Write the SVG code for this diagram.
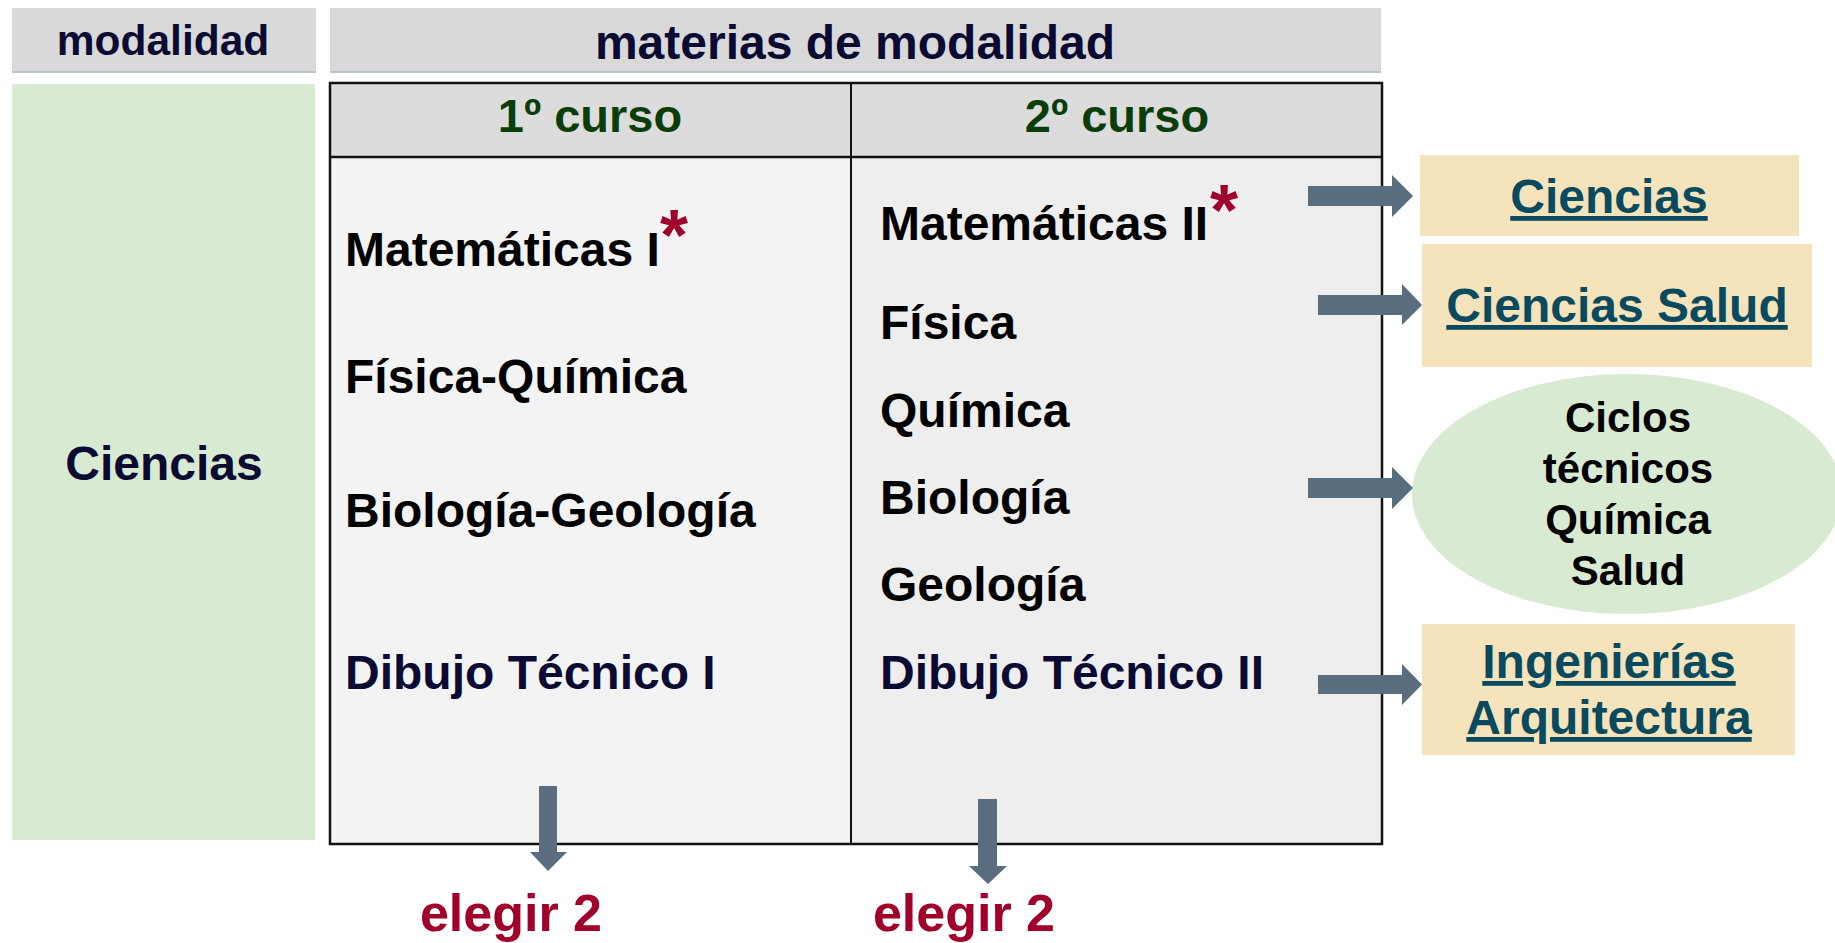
<svg xmlns="http://www.w3.org/2000/svg" width="1835" height="943" viewBox="0 0 1835 943">
<style>
text{font-family:"Liberation Sans",Arial,sans-serif;font-weight:bold}
.hdr{fill:#d9d9d9}
.navy{fill:#0a0a32}
.blk{fill:#000}
.grn{fill:#0b3d0b}
.red{fill:#a0002a}
.teal{fill:#0a4a5f;text-decoration:underline}
.wheat{fill:#f5e4bb}
.arr{fill:#596d7e}
.s47{font-size:48px}
.mid{text-anchor:middle}
</style>
<rect width="1835" height="943" fill="#fff"/>
<g id="hdr-modalidad">
<rect class="hdr" x="12" y="8" width="304" height="64"/>
<line x1="12" y1="72" x2="316" y2="72" stroke="#b8c4d0" stroke-width="2"/>
<text class="navy mid" x="163" y="55" font-size="42.5">modalidad</text>
</g>
<g id="hdr-materias">
<rect class="hdr" x="330" y="8" width="1051" height="64"/>
<line x1="330" y1="72" x2="1381" y2="72" stroke="#b8c4d0" stroke-width="2"/>
<text class="navy mid" x="855" y="59" font-size="48">materias de modalidad</text>
</g>
<g id="modalidad-ciencias">
<rect x="12" y="84" width="303" height="756" fill="#d9ead3"/>
<text class="navy mid s47" x="164" y="480">Ciencias</text>
</g>
<g id="table">
<rect x="330" y="83" width="521" height="74" fill="#dcdcdc"/>
<rect x="851" y="83" width="531" height="74" fill="#dcdcdc"/>
<rect x="330" y="157" width="521" height="687" fill="#f3f3f3"/>
<rect x="851" y="157" width="531" height="687" fill="#eeeeee"/>
<rect x="330" y="83" width="1052" height="761" fill="none" stroke="#111" stroke-width="2.5"/>
<line x1="330" y1="157" x2="1382" y2="157" stroke="#111" stroke-width="2.5"/>
<line x1="851" y1="83" x2="851" y2="844" stroke="#111" stroke-width="2"/>
</g>
<g id="curso1">
<text class="grn mid" x="590" y="132" font-size="47">1º curso</text>
<text class="blk s47" x="345" y="266">Matemáticas I</text>
<text class="red" x="660" y="260" font-size="72">*</text>
<text class="blk s47" x="345" y="393">Física-Química</text>
<text class="blk s47" x="345" y="527">Biología-Geología</text>
<text class="navy s47" x="345" y="689">Dibujo Técnico I</text>
</g>
<g id="curso2">
<text class="grn mid" x="1117" y="132" font-size="47">2º curso</text>
<text class="blk s47" x="880" y="240">Matemáticas II</text>
<text class="red" x="1210" y="235" font-size="72">*</text>
<text class="blk s47" x="880" y="339">Física</text>
<text class="blk s47" x="880" y="427">Química</text>
<text class="blk s47" x="880" y="514">Biología</text>
<text class="blk s47" x="880" y="601">Geología</text>
<text class="navy s47" x="880" y="689">Dibujo Técnico II</text>
</g>
<g id="dest-ciencias">
<rect class="wheat" x="1420" y="155" width="379" height="81"/>
<text class="teal mid s47" x="1609" y="213">Ciencias</text>
</g>
<g id="dest-salud">
<rect class="wheat" x="1422" y="244" width="390" height="123"/>
<text class="teal mid s47" x="1617" y="322">Ciencias Salud</text>
</g>
<g id="dest-ciclos">
<ellipse cx="1627" cy="494" rx="215" ry="120" fill="#d9ead3"/>
<text class="blk mid" font-size="42" x="1628" y="432">Ciclos</text>
<text class="blk mid" font-size="42" x="1628" y="483">técnicos</text>
<text class="blk mid" font-size="42" x="1628" y="534">Química</text>
<text class="blk mid" font-size="42" x="1628" y="585">Salud</text>
</g>
<g id="dest-ingenierias">
<rect class="wheat" x="1422" y="624" width="373" height="131"/>
<text class="teal mid s47" x="1609" y="678">Ingenierías</text>
<text class="teal mid s47" x="1609" y="734">Arquitectura</text>
</g>
<g id="connectors">
<polygon class="arr" points="1308,186 1392,186 1392,175 1413,196 1392,217 1392,206 1308,206"/>
<polygon class="arr" points="1318,295 1402,295 1402,284 1422,305 1402,325 1402,315 1318,315"/>
<polygon class="arr" points="1308,478 1392,478 1392,467 1413,488 1392,509 1392,498 1308,498"/>
<polygon class="arr" points="1318,675 1402,675 1402,664 1422,684.5 1402,705 1402,694 1318,694"/>
<polygon class="arr" points="539,786 557,786 557,852 567,852 548,871 530,852 539,852"/>
<polygon class="arr" points="978,799 997,799 997,866 1007,866 988,884 969,866 978,866"/>
</g>
<g id="labels">
<text class="red mid" x="511" y="931" font-size="52">elegir 2</text>
<text class="red mid" x="964" y="931" font-size="52">elegir 2</text>
</g>
</svg>
